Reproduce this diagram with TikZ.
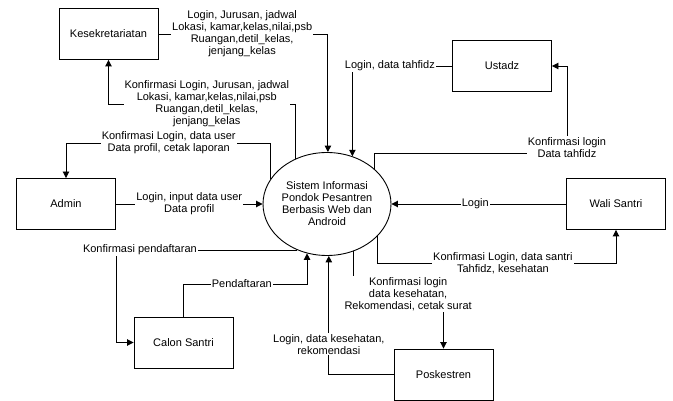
\documentclass[tikz,border=0pt]{standalone}
\usepackage{fontspec}
\setmainfont{Liberation Sans}
\usetikzlibrary{shapes.geometric,arrows.meta}
\begin{document}
\begin{tikzpicture}[x=1pt,y=-1pt,
  font=\fontsize{11}{12}\selectfont,
  ent/.style={draw, line width=0.9pt, minimum width=99pt, minimum height=51pt, inner sep=0pt},
  proc/.style={draw, ellipse, line width=0.9pt, minimum width=122pt, minimum height=103pt, inner sep=0pt, align=center},
  flow/.style={line width=0.9pt, -{Triangle[length=6.5pt,width=6.5pt]}},
  lbl/.style={fill=white, inner sep=1pt, align=center}]
\useasboundingbox (0,0) rectangle (673,401);
% entities
\node[ent] (kes) at (108.5,34) {Kesekretariatan};
\node[ent] (admin) at (66,204) {Admin};
\node[ent] (ust) at (502,66) {Ustadz};
\node[ent] (wali) at (616,204) {Wali Santri};
\node[ent] (calon) at (183.5,342.5) {Calon Santri};
\node[ent] (posk) at (443.5,374.5) {Poskestren};
% process
\node[proc] (sys) at (327,204) {Sistem Informasi\\Pondok Pesantren\\Berbasis Web dan\\Android};
% flows
\draw[flow] (kes.east) -| node[lbl,pos=0.247] (l1) {Login, Jurusan, jadwal\\Lokasi, kamar,kelas,nilai,psb\\Ruangan,detil\_kelas,\\jenjang\_kelas} (sys.89);
\draw[flow] (sys.125) -- (sys.125 |- 0,104) -| node[lbl,pos=0.237] (l2) {Konfirmasi Login, Jurusan, jadwal\\Lokasi, kamar,kelas,nilai,psb\\Ruangan,detil\_kelas,\\jenjang\_kelas} (kes.south);
\draw[flow] (sys.156) -- (sys.156 |- 0,143) -| node[lbl,pos=0.249] (l3) {Konfirmasi Login, data user\\Data profil, cetak laporan} (admin.north);
\draw[flow] (admin) -- node[lbl] (l4) {Login, input data user\\Data profil} (sys);
\draw[flow] (sys.237) -- node[lbl,pos=0.868] (l5) {Konfirmasi pendaftaran} (sys.237 -| 116,0) |- (calon.west);
\draw[flow] (calon.north) -- (calon.north |- 0,284) -| node[lbl,pos=0.236] (l6) {Pendaftaran} (sys.248);
\draw[flow] (posk.west) -| node[lbl,pos=0.628] (l7) {Login, data kesehatan,\\rekomendasi} (sys.272);
\draw[flow] (sys.299) -- (sys.299 |- 0,294) -| node[lbl,pos=0.304] (l8) {Konfirmasi login\\data kesehatan,\\Rekomendasi, cetak surat} (posk.north);
\draw[flow] (sys.328) -- (sys.328 |- 0,263) -| node[lbl,pos=0.2625] (l9) {Konfirmasi Login, data santri\\Tahfidz, kesehatan} (wali.south);
\draw[flow] (wali) -- node[lbl,pos=0.52] (l10) {Login} (sys);
\draw[flow] (ust.west) -| node[lbl,pos=0.312] (l11) {Login, data tahfidz} (sys.62);
\draw[flow] (sys.36) -- (sys.36 |- 0,153) -| node[lbl,pos=0.534] (l12) {Konfirmasi login\\Data tahfidz} ([xshift=15pt]ust.east) -- (ust.east);
\end{tikzpicture}
\end{document}
